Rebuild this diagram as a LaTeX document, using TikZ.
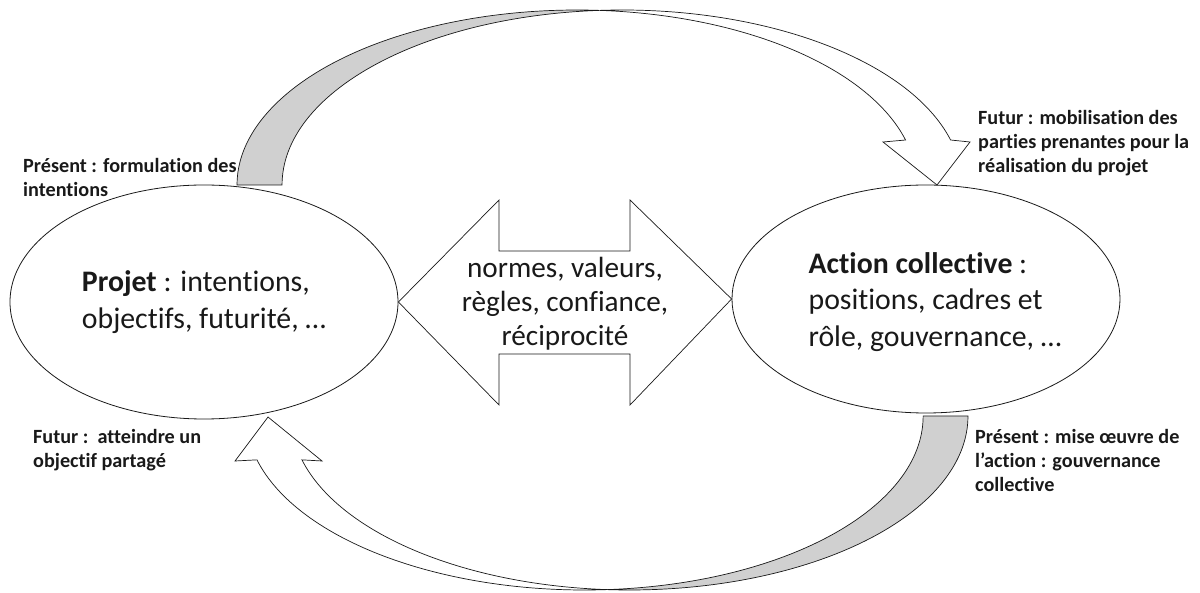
\documentclass[tikz,border=0pt]{standalone}
\usepackage{fontspec}
\setmainfont{Carlito}[RawFeature={-liga}]
\usetikzlibrary{shapes.geometric,calc}
\definecolor{bandgray}{RGB}{208,208,208}
\definecolor{ink}{RGB}{25,25,25}
\begin{document}
\begin{tikzpicture}[x=1pt,y=1pt,
  lbl/.style={font=\fontsize{20.2}{24.2}\selectfont\bfseries, text=ink, align=left, anchor=north west, inner sep=0pt},
  bigtxt/.style={font=\fontsize{29.8}{36.5}\selectfont, text=ink},
  oval/.style={ellipse, draw=ink, line width=0.8pt, inner sep=0pt},
  band/.style={draw=ink, line width=0.7pt, line join=miter},
]
\useasboundingbox (0,0) rectangle (1200,592);

% ellipses
\node[oval, bigtxt, align=left, minimum width=388, minimum height=234] (proj) at (204,290)
  {\textbf{Projet} : intentions,\\objectifs, futurité, …};
\node[oval, minimum width=388, minimum height=228] (act) at (926,293) {};
\node[bigtxt, align=left, inner sep=0pt] (acttxt) at ([xshift=9pt,yshift=-3pt]act.center)
  {\textbf{Action collective} :\\positions, cadres et\\rôle, gouvernance, …};

% double block arrow
\draw[band, fill=white] (proj.east) -- (499,392) -- (499,341) -- (630,341) -- (630,392)
  -- (act.west) -- (630,187) -- (630,238) -- (499,238) -- (499,187) -- cycle;
\node[align=center, text=ink, font=\fontsize{29.2}{34}\selectfont] (mid) at (565,288)
  {normes, valeurs,\\règles, confiance,\\réciprocité};

% top curved arrow
\coordinate (E1) at (577,407);
\coordinate (E2) at (622,407);
\coordinate (topX) at ($(E1)+(86.2:340 and 175)$);
\coordinate (headA) at (937,407);
\draw[band, fill=bandgray] ($(E1)+(180:340 and 175)$)
  arc[start angle=180, end angle=86.2, x radius=340, y radius=175]
  arc[start angle=93.8, end angle=180, x radius=340, y radius=175] -- cycle;
\draw[band, fill=white] (topX)
  arc[start angle=93.8, end angle=14.9, x radius=340, y radius=175]
  -- (970,450) -- (headA) -- (883,450) -- ($(E1)+(14.9:340 and 175)$)
  arc[start angle=14.9, end angle=86.2, x radius=340, y radius=175] -- cycle;

% bottom curved arrow
\coordinate (G1) at (584.5,176);
\coordinate (G2) at (629.5,176);
\coordinate (botX) at ($(G2)+(-93.8:338.5 and 174)$);
\coordinate (headB) at (268,175);
\draw[band, fill=bandgray] ($(G2)+(0:338.5 and 174)$)
  arc[start angle=0, end angle=-93.8, x radius=338.5, y radius=174]
  arc[start angle=-86.2, end angle=0, x radius=338.5, y radius=174] -- cycle;
\draw[band, fill=white] (botX)
  arc[start angle=-93.8, end angle=-165.4, x radius=338.5, y radius=174]
  -- (322,131) -- (headB) -- (235,131) -- ($(G1)+(-165.4:338.5 and 174)$)
  arc[start angle=-165.4, end angle=-86.2, x radius=338.5, y radius=174] -- cycle;

% labels
\node[lbl] (lpf) at (23,434) {Présent : formulation des\\intentions};
\node[lbl] (lfm) at (978,482) {Futur : mobilisation des\\parties prenantes pour la\\réalisation du projet};
\node[lbl] (lfa) at (33,163) {Futur :\ \ atteindre un\\objectif partagé};
\node[lbl] (lpm) at (975,163) {Présent : mise œuvre de\\l’action : gouvernance\\collective};
\end{tikzpicture}
\end{document}
